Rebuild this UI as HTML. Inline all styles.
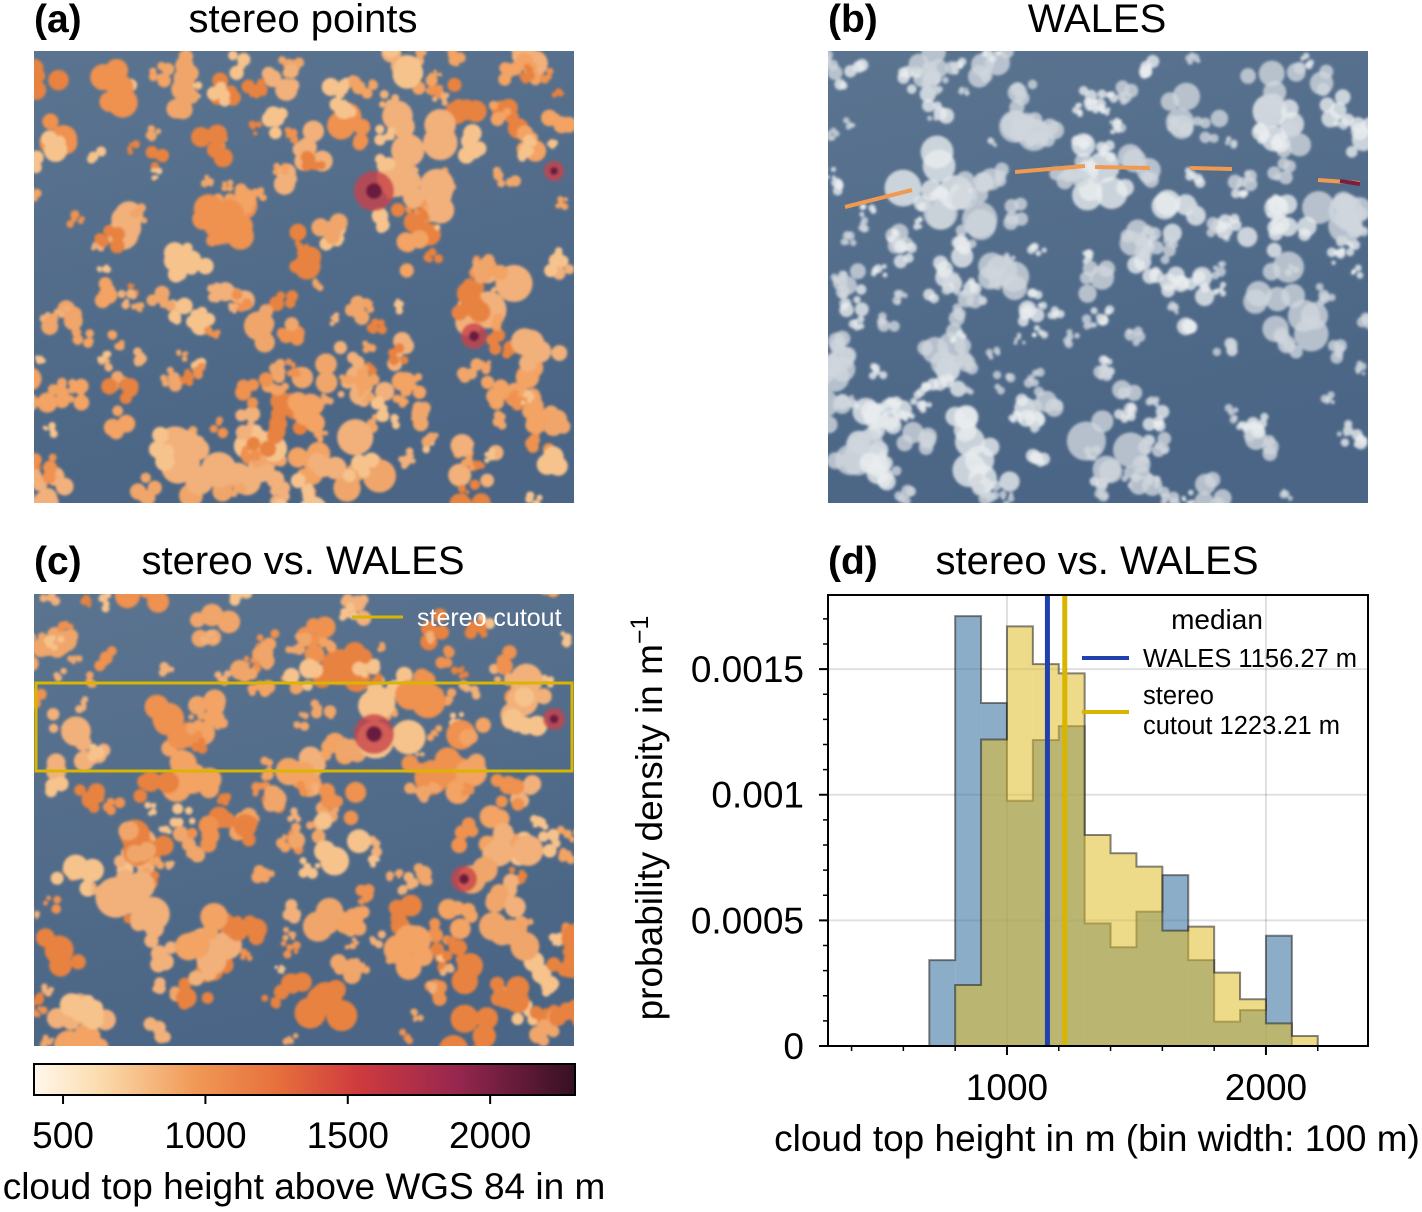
<!DOCTYPE html>
<html><head><meta charset="utf-8">
<style>
body{margin:0;background:#fff;width:1422px;height:1207px;overflow:hidden;font-family:"Liberation Sans",Arial,sans-serif}
svg text{font-family:"Liberation Sans",Arial,sans-serif}
</style></head>
<body>
<svg id="fig" width="1422" height="1207" viewBox="0 0 1422 1207" xmlns="http://www.w3.org/2000/svg">
<defs>
<linearGradient id="cmap" x1="0" x2="1" y1="0" y2="0">
<stop offset="0" stop-color="#fff8ec"/><stop offset="0.12" stop-color="#fbdcae"/>
<stop offset="0.3" stop-color="#f09855"/><stop offset="0.45" stop-color="#e6703c"/>
<stop offset="0.6" stop-color="#cf3a3e"/><stop offset="0.78" stop-color="#98274f"/>
<stop offset="1" stop-color="#351024"/></linearGradient>
<linearGradient id="sea" x1="0" x2="0.3" y1="0" y2="1"><stop offset="0" stop-color="#5a7490"/><stop offset="1" stop-color="#4a6585"/></linearGradient>
<filter id="soft"><feGaussianBlur stdDeviation="1.2"/></filter>
<clipPath id="ca"><rect x="34" y="51" width="540" height="452"/></clipPath>
<clipPath id="cb"><rect x="828" y="51" width="540" height="452"/></clipPath>
<clipPath id="cc"><rect x="34" y="594" width="540" height="452"/></clipPath>
</defs>

<text x="34" y="32" font-size="39" font-weight="bold">(a)</text>
<text x="303" y="32" font-size="40" text-anchor="middle">stereo points</text>
<text x="828" y="32" font-size="39" font-weight="bold">(b)</text>
<text x="1097" y="32" font-size="40" text-anchor="middle">WALES</text>
<text x="34" y="574" font-size="39" font-weight="bold">(c)</text>
<text x="303" y="574" font-size="40" text-anchor="middle">stereo vs. WALES</text>
<text x="828" y="574" font-size="39" font-weight="bold">(d)</text>
<text x="1097" y="574" font-size="40" text-anchor="middle">stereo vs. WALES</text>

<g id="pa" clip-path="url(#ca)"><rect x="34" y="51" width="540" height="452" fill="url(#sea)"/></g>
<g id="pb" clip-path="url(#cb)"><rect x="828" y="51" width="540" height="452" fill="url(#sea)"/></g>
<g id="pc" clip-path="url(#cc)"><rect x="34" y="594" width="540" height="452" fill="url(#sea)"/></g>
<rect x="36" y="683" width="536" height="88" fill="none" stroke="#d8b500" stroke-width="3"/>
<line x1="352" y1="617" x2="403" y2="617" stroke="#d8b500" stroke-width="3"/>
<text x="417" y="626" font-size="25" fill="#fff">stereo cutout</text>

<rect x="34" y="1064" width="541" height="31" fill="url(#cmap)" stroke="#000" stroke-width="2"/>
<g id="cbticks"></g>
<text x="304" y="1199" font-size="37" text-anchor="middle">cloud top height above WGS 84 in m</text>

<g id="hist"></g>
<text transform="translate(662,818) rotate(-90)" font-size="37" text-anchor="middle">probability density in m<tspan dy="-14" font-size="25">−1</tspan></text>
<text x="1097" y="1151" font-size="37" text-anchor="middle">cloud top height in m (bin width: 100 m)</text>
<text x="1217" y="629" font-size="28" text-anchor="middle">median</text>
<line x1="1082" y1="658" x2="1129" y2="658" stroke="#2040b0" stroke-width="4"/>
<text x="1143" y="667" font-size="25.5">WALES 1156.27 m</text>
<line x1="1082" y1="712" x2="1129" y2="712" stroke="#d8b500" stroke-width="4"/>
<text x="1143" y="704" font-size="25.5">stereo</text>
<text x="1143" y="734" font-size="25.5">cutout 1223.21 m</text>
</svg>
<script>
const NS="http://www.w3.org/2000/svg";
const binEdges=[700,800,900,1000,1100,1200,1300,1400,1500,1600,1700,1800,1900,2000,2100,2200];
const walesDensity=[0.000342,0.001711,0.001365,0.000976,0.001218,0.001273,0.000488,0.000393,0.000535,0.00068,0.000342,0.0000968,0.000143,0.000439,0];
const stereoDensity=[0,0.000243,0.00122,0.00167,0.00152,0.001483,0.00084,0.000767,0.000714,0.000459,0.000475,0.000292,0.000186,0.0000902,0.0000398];
const medianWales=1156.27, medianStereo=1223.21;
const yTicks=[0,0.0005,0.001,0.0015];
const yTickLabels=["0","0.0005","0.001","0.0015"];
const xTicks=[1000,2000];
const xTickLabels=["1000","2000"];
const cbTicks=[500,1000,1500,2000];

const L=828,R=1368,T=595,B=1046;
const xmin=309,xmax=2394,ymax=0.001795;
const sx=v=>L+(v-xmin)/(xmax-xmin)*(R-L);
const sy=v=>B-v/ymax*(B-T);
const hist=document.getElementById('hist');
function mk(tag,attrs,parent){const e=document.createElementNS(NS,tag);for(const k in attrs)e.setAttribute(k,attrs[k]);(parent||hist).appendChild(e);return e;}
mk('rect',{x:L,y:T,width:R-L,height:B-T,fill:'#fff'});
xTicks.forEach(v=>{const g=mk('line',{x1:sx(v),x2:sx(v),y1:T,y2:B,stroke:'#000','stroke-opacity':0.12,'stroke-width':2});

});
yTicks.slice(1).forEach(v=>{const g=mk('line',{x1:L,x2:R,y1:sy(v),y2:sy(v),stroke:'#000','stroke-opacity':0.12,'stroke-width':2});

});
function series(vals,fill,op,name){
  vals.forEach((v,i)=>{if(v<=0)return;const r=mk('rect',{x:sx(binEdges[i]),y:sy(v),width:sx(binEdges[i+1])-sx(binEdges[i]),height:B-sy(v),fill:fill,'fill-opacity':op});
  
  });
  let d='M'+sx(binEdges[0])+','+B;
  vals.forEach((v,i)=>{d+=' L'+sx(binEdges[i])+','+sy(v)+' L'+sx(binEdges[i+1])+','+sy(v);});
  d+=' L'+sx(binEdges[binEdges.length-1])+','+B;
  const p=mk('path',{d:d,fill:'none',stroke:'#222','stroke-opacity':0.55,'stroke-width':2});
  
  
}
series(walesDensity,'#3f77a3',0.6,'wales');
series(stereoDensity,'#e0be2a',0.55,'stereo');
const mw=mk('line',{x1:sx(medianWales),x2:sx(medianWales),y1:T,y2:B,stroke:'#2040b0','stroke-width':5});


const ms=mk('line',{x1:sx(medianStereo),x2:sx(medianStereo),y1:T,y2:B,stroke:'#d8b500','stroke-width':5});


mk('rect',{x:L,y:T,width:R-L,height:B-T,fill:'none',stroke:'#000','stroke-width':2});
yTicks.forEach((v,i)=>{mk('line',{x1:L-9,x2:L,y1:sy(v),y2:sy(v),stroke:'#000','stroke-width':2});
const t=mk('text',{x:L-24,y:sy(v)+13,'font-size':37,'text-anchor':'end'});t.textContent=yTickLabels[i];

});
for(let v=0.0001;v<ymax;v+=0.0001){mk('line',{x1:L-5,x2:L,y1:sy(v),y2:sy(v),stroke:'#000','stroke-width':1.5});}
xTicks.forEach((v,i)=>{mk('line',{x1:sx(v),x2:sx(v),y1:B,y2:B+9,stroke:'#000','stroke-width':2});
const t=mk('text',{x:sx(v),y:B+54,'font-size':37,'text-anchor':'middle'});t.textContent=xTickLabels[i];

});
for(let v=400;v<=2200;v+=200){if(v%1000)mk('line',{x1:sx(v),x2:sx(v),y1:B,y2:B+5,stroke:'#000','stroke-width':1.5});}

const cb=document.getElementById('cbticks');
const cx=v=>34+(v-398)/(2298-398)*541;
cbTicks.forEach(v=>{mk('line',{x1:cx(v),x2:cx(v),y1:1095,y2:1104,stroke:'#000','stroke-width':2},cb);
const t=mk('text',{x:cx(v),y:1148,'font-size':37,'text-anchor':'middle'},cb);t.textContent=String(v);

});

// photo texture (decorative)
let seed=7;const rnd=()=>{seed=(seed*16807)%2147483647;return seed/2147483647;};
const cols=['#f3a364','#ef9150','#f0a66a','#f7c38c','#e8823f','#f2b07a'];
function blobs(g,x0,y0,n,dark,white){
  const grp=mk('g',{filter:'url(#soft)'},g);
  for(let i=0;i<n;i++){const x=x0+rnd()*540,y=y0+rnd()*452,r=4+rnd()*rnd()*20;
    let c=white?(rnd()<0.5?'#e8ecef':'#cfd6dd'):cols[Math.floor(rnd()*cols.length)];
    for(let k=0;k<5;k++){mk('circle',{cx:x+(rnd()-0.5)*r*2.4,cy:y+(rnd()-0.5)*r*2.4,r:r*(0.4+rnd()*0.5),fill:c,'fill-opacity':white?0.8:1},grp);}
  }
  if(!white) dark.forEach(d=>{mk('circle',{cx:x0+d[0],cy:y0+d[1],r:d[2],fill:'#c8424a','fill-opacity':0.8},grp);mk('circle',{cx:x0+d[0],cy:y0+d[1],r:d[2]*0.4,fill:'#6a1f40'},grp);});
}
blobs(document.getElementById('pa'),34,51,240,[[340,140,20],[440,285,13],[520,120,10]],false);
seed=99;blobs(document.getElementById('pb'),828,51,200,[],true);
seed=55;blobs(document.getElementById('pc'),34,594,220,[[340,140,20],[430,285,13],[520,125,11]],false);
const pbg=document.getElementById('pb');
[[845,207,912,190],[1015,172,1085,166],[1095,167,1150,168],[1190,168,1232,169],[1318,180,1360,183]].forEach(s=>{mk('line',{x1:s[0],y1:s[1],x2:s[2],y2:s[3],stroke:'#ef9a50','stroke-width':4},pbg);});
mk('line',{x1:1340,y1:181,x2:1360,y2:184,stroke:'#7a1f3e','stroke-width':4},pbg);
</script>
</body></html>
